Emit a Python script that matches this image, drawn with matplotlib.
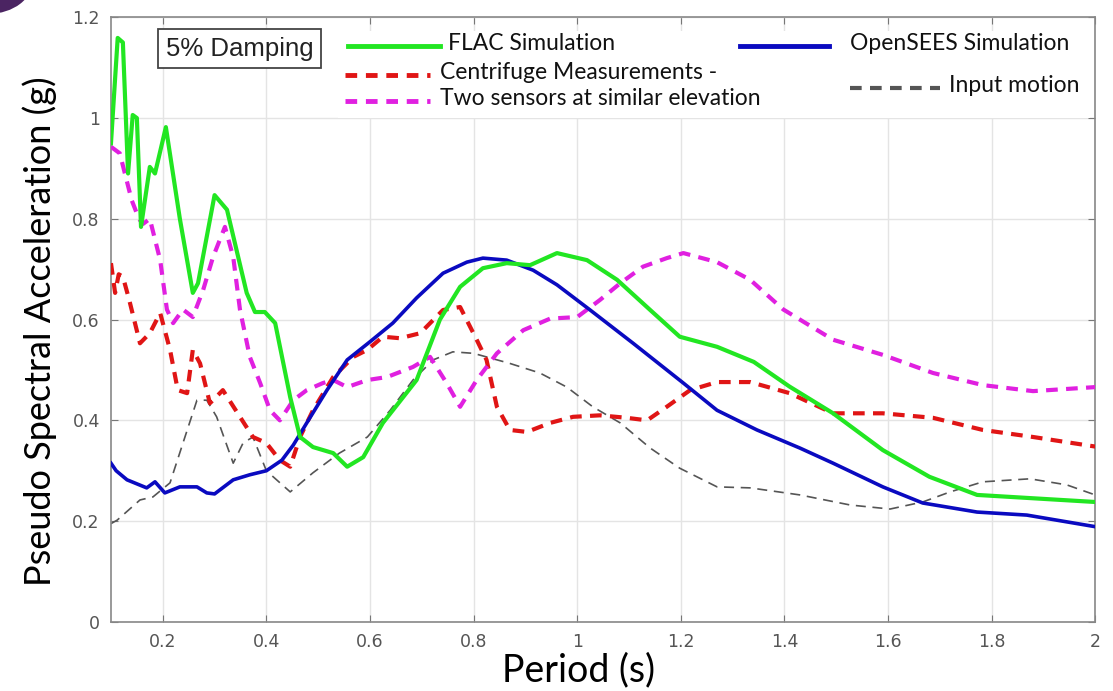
import matplotlib
matplotlib.use("Agg")
import matplotlib.pyplot as plt
from matplotlib.patches import Rectangle, Ellipse
from matplotlib.lines import Line2D

# FLAC simulation (green)
flac_x = [0.1, 0.113, 0.123, 0.133, 0.142, 0.150, 0.158, 0.175, 0.185, 0.206, 0.233, 0.258, 0.268,
          0.30, 0.324, 0.362, 0.378, 0.397, 0.417, 0.446, 0.465, 0.49, 0.529, 0.556, 0.587, 0.625,
          0.69, 0.735, 0.774, 0.818, 0.864, 0.909, 0.961, 1.019, 1.077, 1.141, 1.198, 1.27, 1.341,
          1.41, 1.494, 1.59, 1.68, 1.772, 2.0]
flac_y = [0.95, 1.159, 1.15, 0.89, 1.006, 1.0, 0.784, 0.903, 0.89, 0.982, 0.80, 0.653, 0.672,
          0.847, 0.818, 0.653, 0.615, 0.615, 0.593, 0.446, 0.367, 0.347, 0.335, 0.308, 0.327, 0.395,
          0.48, 0.60, 0.665, 0.702, 0.712, 0.708, 0.732, 0.718, 0.679, 0.619, 0.566, 0.546, 0.516,
          0.467, 0.414, 0.341, 0.288, 0.252, 0.238]

# OpenSEES simulation (blue)
ops_x = [0.1, 0.11, 0.131, 0.169, 0.185, 0.204, 0.233, 0.266, 0.285, 0.30, 0.336, 0.368, 0.40,
         0.43, 0.452, 0.478, 0.517, 0.556, 0.60, 0.644, 0.69, 0.741, 0.787, 0.818, 0.864, 0.915,
         0.961, 1.025, 1.108, 1.205, 1.27, 1.347, 1.43, 1.494, 1.59, 1.667, 1.772, 1.868, 2.0]
ops_y = [0.315, 0.30, 0.282, 0.266, 0.278, 0.256, 0.268, 0.268, 0.256, 0.254, 0.282, 0.292, 0.30,
         0.321, 0.351, 0.395, 0.46, 0.52, 0.556, 0.593, 0.643, 0.692, 0.714, 0.722, 0.718, 0.698,
         0.669, 0.619, 0.553, 0.474, 0.42, 0.381, 0.345, 0.315, 0.268, 0.236, 0.218, 0.212, 0.189]

# centrifuge sensor 1 (red dashed)
cen1_x = [0.1, 0.108, 0.115, 0.123, 0.135, 0.156, 0.175, 0.195, 0.214, 0.229, 0.247, 0.258, 0.272,
          0.291, 0.316, 0.349, 0.374, 0.40, 0.426, 0.446, 0.465, 0.49, 0.529, 0.568, 0.595, 0.625,
          0.658, 0.697, 0.741, 0.774, 0.806, 0.825, 0.845, 0.87, 0.903, 0.948, 0.992, 1.044, 1.096,
          1.135, 1.173, 1.218, 1.27, 1.334, 1.41, 1.494, 1.59, 1.687, 1.783, 1.88, 2.0]
cen1_y = [0.712, 0.653, 0.69, 0.685, 0.64, 0.553, 0.573, 0.613, 0.54, 0.46, 0.454, 0.54, 0.513,
          0.434, 0.46, 0.407, 0.367, 0.355, 0.321, 0.308, 0.367, 0.42, 0.486, 0.526, 0.54, 0.566,
          0.563, 0.573, 0.619, 0.625, 0.56, 0.52, 0.427, 0.381, 0.377, 0.395, 0.407, 0.41, 0.405,
          0.40, 0.427, 0.46, 0.476, 0.476, 0.454, 0.414, 0.414, 0.405, 0.381, 0.367, 0.348]

# centrifuge sensor 2 (magenta dashed)
cen2_x = [0.1, 0.117, 0.14, 0.154, 0.162, 0.175, 0.195, 0.208, 0.22, 0.239, 0.258, 0.278, 0.297,
          0.32, 0.336, 0.349, 0.368, 0.388, 0.407, 0.426, 0.452, 0.478, 0.509, 0.529, 0.556, 0.595,
          0.633, 0.683, 0.716, 0.748, 0.774, 0.806, 0.845, 0.896, 0.948, 1.0, 1.044, 1.083, 1.127,
          1.173, 1.205, 1.27, 1.334, 1.398, 1.494, 1.59, 1.687, 1.783, 1.88, 2.0]
cen2_y = [0.943, 0.93, 0.837, 0.80, 0.79, 0.80, 0.718, 0.62, 0.593, 0.62, 0.605, 0.659, 0.724,
          0.784, 0.724, 0.62, 0.526, 0.474, 0.42, 0.40, 0.44, 0.46, 0.474, 0.48, 0.466, 0.48,
          0.486, 0.506, 0.526, 0.474, 0.427, 0.48, 0.533, 0.579, 0.602, 0.605, 0.639, 0.672, 0.705,
          0.722, 0.732, 0.714, 0.679, 0.62, 0.56, 0.53, 0.494, 0.47, 0.458, 0.466]

# input motion (thin grey dashed)
inp_x = [0.1, 0.112, 0.156, 0.181, 0.214, 0.239, 0.266, 0.285, 0.304, 0.336, 0.355, 0.374, 0.40,
         0.446, 0.49, 0.541, 0.595, 0.639, 0.683, 0.722, 0.76, 0.80, 0.87, 0.928, 0.98, 1.03,
         1.083, 1.141, 1.198, 1.27, 1.334, 1.43, 1.527, 1.604, 1.667, 1.72, 1.783, 1.874, 1.945, 2.0]
inp_y = [0.195, 0.202, 0.242, 0.248, 0.276, 0.355, 0.44, 0.44, 0.407, 0.315, 0.355, 0.367, 0.30,
         0.258, 0.296, 0.335, 0.367, 0.42, 0.48, 0.52, 0.536, 0.533, 0.513, 0.494, 0.466, 0.427,
         0.395, 0.345, 0.305, 0.268, 0.266, 0.252, 0.232, 0.224, 0.238, 0.258, 0.278, 0.284, 0.272, 0.252]

xticks = [0.2, 0.4, 0.6, 0.8, 1.0, 1.2, 1.4, 1.6, 1.8, 2.0]
xtick_labels = ['0.2', '0.4', '0.6', '0.8', '1', '1.2', '1.4', '1.6', '1.8', '2']
yticks = [0, 0.2, 0.4, 0.6, 0.8, 1.0, 1.2]
ytick_labels = ['0', '0.2', '0.4', '0.6', '0.8', '1', '1.2']

green = '#22e622'
blue = '#0a0ac0'
red = '#e01515'
magenta = '#e020e0'
grey = '#555555'

fig = plt.figure(figsize=(11.13, 6.91), dpi=100)
ax = fig.add_axes([0.0997, 0.1, 0.8843, 0.875])

ax.plot(inp_x, inp_y, color=grey, lw=1.2, dashes=(6, 4), zorder=2)
ax.plot(cen1_x, cen1_y, color=red, lw=3, dashes=(2.8, 2), zorder=3)
ax.plot(cen2_x, cen2_y, color=magenta, lw=3, dashes=(2.8, 2), zorder=3)
ax.plot(ops_x, ops_y, color=blue, lw=2.6, zorder=4)
ax.plot(flac_x, flac_y, color=green, lw=3, zorder=5)

ax.set_xlim(0.1, 2.0)
ax.set_ylim(0, 1.2)
ax.set_xticks(xticks)
ax.set_xticklabels(xtick_labels)
ax.set_yticks(yticks)
ax.set_yticklabels(ytick_labels)
ax.grid(True, color='#e4e4e4', lw=1)
ax.set_axisbelow(True)
ax.tick_params(direction='in', top=True, right=True, length=5, color='#777777',
               labelcolor='#555555', labelsize=12.5, pad=8)
for lab in ax.get_xticklabels() + ax.get_yticklabels():
    lab.set_family(['Liberation Sans Narrow', 'DejaVu Sans'])
for s in ax.spines.values():
    s.set_color('#888888')
    s.set_linewidth(1.2)

# damping box
ax.text(0.056, 0.948, '5% Damping', transform=ax.transAxes, fontsize=18.5,
        family='Liberation Sans', color='#222222', va='center', ha='left', zorder=10,
        bbox=dict(boxstyle='square,pad=0.3', fc='white', ec='#444444', lw=1.3))

# legend panel
ax.add_patch(Rectangle((0.231, 0.833), 0.764, 0.145, transform=ax.transAxes,
                       fc='white', ec='none', zorder=8))
lf = dict(transform=ax.transAxes, fontsize=16.5, family='Lato', color='#111111',
          va='center', ha='left', zorder=10)
keys = [
    ((0.241, 0.334), 0.952, green, 3.5, None, 'FLAC Simulation', 0.342),
    ((0.639, 0.730), 0.952, blue, 3.5, None, 'OpenSEES Simulation', 0.751),
    ((0.238, 0.324), 0.904, red, 3.5, (2.4, 1.8), 'Centrifuge Measurements -', 0.334),
    ((0.238, 0.324), 0.861, magenta, 3.5, (2.4, 1.8), 'Two sensors at similar elevation', 0.334),
    ((0.751, 0.842), 0.883, grey, 3.0, (2.8, 2.0), 'Input motion', 0.851),
]
for (x0, x1), yk, c, w, d, label, xt in keys:
    ln = Line2D([x0, x1], [yk, yk], transform=ax.transAxes, color=c, lw=w, zorder=10)
    if d is not None:
        ln.set_dashes(d)
    ax.add_line(ln)
    ax.text(xt, yk + 0.004, label, **lf)

fig.text(0.036, 0.52, 'Pseudo Spectral Acceleration (g)', rotation=90, fontsize=26,
         family='Lato', va='center', ha='center', color='black')
fig.text(0.52, 0.03, 'Period (s)', fontsize=27, family='Lato', va='center', ha='center',
         color='black')

# corner decoration
fig.patches.append(Ellipse((-0.01, 1.03), 0.08, 0.1, transform=fig.transFigure,
                           fc='#4b2462', ec='none'))

fig.savefig('out.png', dpi=100)
